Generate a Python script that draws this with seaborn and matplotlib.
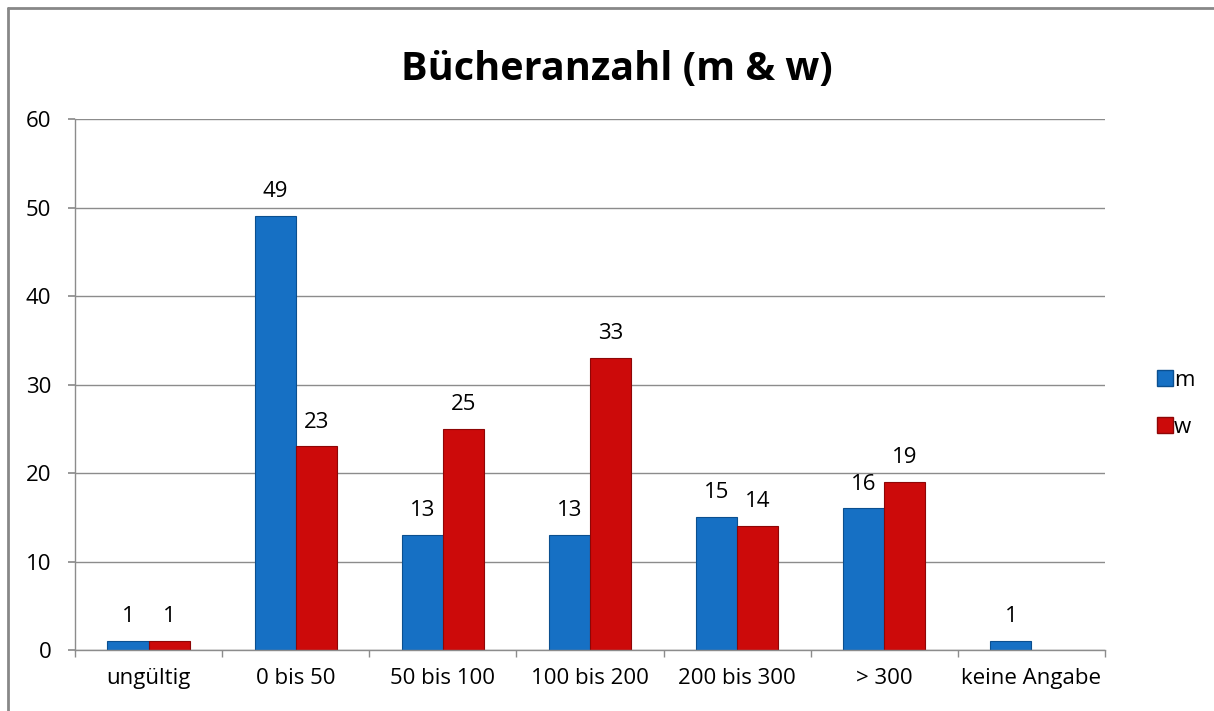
import pandas as pd
import numpy as np
import matplotlib.pyplot as plt
from matplotlib.lines import Line2D
import seaborn as sns

# ── Daten ────────────────────────────────────────────────
categories = ["ungültig", "0 bis 50", "50 bis 100", "100 bis 200",
              "200 bis 300", "> 300", "keine Angabe"]
m_values = [1, 49, 13, 13, 15, 16, 1]
w_values = [1, 23, 25, 33, 14, 19, np.nan]
y_ticks = [0, 10, 20, 30, 40, 50, 60]

COLORS = {"m": "#1670C4", "w": "#CC0A0A"}
EDGES = {"m": "#0B4F8F", "w": "#8E0606"}
GRID = "#8c8c8c"

df = pd.DataFrame({
    "kategorie": categories * 2,
    "anzahl": m_values + w_values,
    "geschlecht": ["m"] * len(categories) + ["w"] * len(categories),
})

sns.set_theme(style="white")
plt.rcParams["font.family"] = ["Open Sans", "DejaVu Sans"]
plt.rcParams["text.color"] = "black"
plt.rcParams["xtick.color"] = "black"
plt.rcParams["ytick.color"] = "black"

fig = plt.figure(figsize=(12.14, 7.11), dpi=100)
ax = fig.add_axes([0.0618, 0.0858, 0.8484, 0.7468])

sns.barplot(data=df, x="kategorie", y="anzahl", hue="geschlecht",
            order=categories, hue_order=["m", "w"], palette=COLORS,
            width=0.56, gap=0, ax=ax, legend=False, saturation=1)

# Kanten + Werte
for cont, g in zip(ax.containers, ["m", "w"]):
    for bar in cont:
        bar.set_edgecolor(EDGES[g])
        bar.set_linewidth(0.8)
    labels = ["" if np.isnan(v) else f"{v:.0f}" for v in cont.datavalues]
    ax.bar_label(cont, labels=labels, padding=10, fontsize=16, color="black")

ax.set_ylim(0, 60)
ax.set_xlim(-0.5, len(categories) - 0.5)
ax.set_yticks(y_ticks)
ax.yaxis.grid(True, color=GRID, lw=1)
ax.set_axisbelow(True)
for s in ["top", "right"]:
    ax.spines[s].set_visible(False)
for s in ["left", "bottom"]:
    ax.spines[s].set_color(GRID)
    ax.spines[s].set_linewidth(1)

ax.set_xticks(np.arange(-0.5, len(categories)), minor=True)
ax.tick_params(axis="x", which="major", length=0, pad=13, labelsize=16)
ax.tick_params(axis="x", which="minor", length=5, color=GRID,
               direction="out", bottom=True)
ax.tick_params(axis="y", length=5, color=GRID, direction="out",
               left=True, labelsize=16, pad=12)
ax.set_xlabel(""); ax.set_ylabel("")

fig.suptitle("Bücheranzahl (m & w)", fontsize=28.5, fontweight="bold",
             x=0.508, y=0.902, va="center", color="black")

handles = [Line2D([], [], marker="s", ls="", markersize=11,
                  markerfacecolor=COLORS[g], markeredgecolor=EDGES[g], label=g)
           for g in ["m", "w"]]
fig.legend(handles=handles, loc="center left", bbox_to_anchor=(0.936, 0.432),
           frameon=False, fontsize=16, handletextpad=0.0, labelspacing=1.2,
           handlelength=0.8)

# Rahmen
fig.add_artist(Line2D([8 / 1214, 1.0], [1 - 8 / 711, 1 - 8 / 711],
                      transform=fig.transFigure, color="#888888", lw=2))
fig.add_artist(Line2D([8 / 1214, 8 / 1214], [0, 1 - 8 / 711],
                      transform=fig.transFigure, color="#888888", lw=2))

fig.savefig("out.png", dpi=100)
